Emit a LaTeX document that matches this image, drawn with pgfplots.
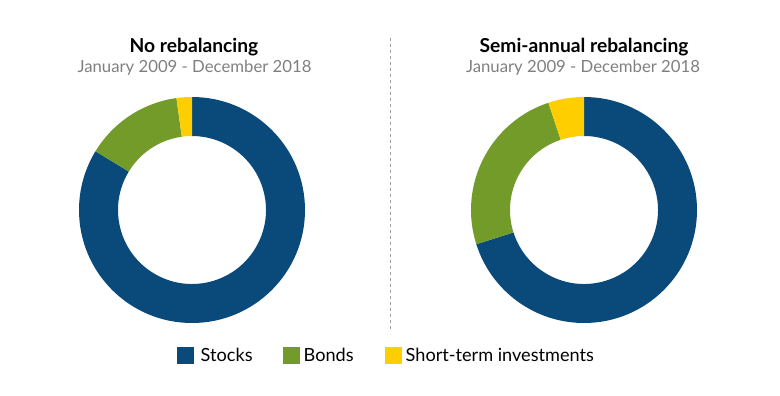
\documentclass[border=0pt]{standalone}
\usepackage{pgfplots}
\pgfplotsset{compat=1.18}
\usepackage{pgfplotstable}
\usepackage{fontspec}
\setmainfont{Lato}
\definecolor{stocks}{HTML}{0A4A7A}
\definecolor{bonds}{HTML}{739B2A}
\definecolor{short}{HTML}{FFCE00}
\definecolor{subgrey}{HTML}{7F7F7F}
\definecolor{divgrey}{HTML}{A0A0A0}

\pgfplotstableread{
label value color
Stocks 83.7 stocks
Bonds 14.1 bonds
Short 2.2 short
}\leftdata
\pgfplotstableread{
label value color
Stocks 70.1 stocks
Bonds 24.8 bonds
Short 5.1 short
}\rightdata

\newcommand\donutseg[5]{%
  \fill[#5] ([shift={(90-3.6*#3:113bp)}]axis cs:#1,#2)
    arc[start angle={90-3.6*#3}, end angle={90-3.6*#4}, radius=113bp]
    -- ([shift={(90-3.6*#4:74bp)}]axis cs:#1,#2)
    arc[start angle={90-3.6*#4}, end angle={90-3.6*#3}, radius=74bp]
    -- cycle;}
\newcommand\donut[3]{%
  \def\cum{0}%
  \pgfplotsforeachungrouped \i in {0,1,2}{%
    \pgfplotstablegetelem{\i}{value}\of#1%
    \pgfmathsetmacro\nxt{\cum+\pgfplotsretval}%
    \pgfplotstablegetelem{\i}{color}\of#1%
    \let\col\pgfplotsretval
    \edef\doit{\noexpand\donutseg{#2}{#3}{\cum}{\nxt}{\col}}\doit
    \let\cum\nxt
  }}

\begin{document}
\begin{tikzpicture}
\begin{axis}[x=1bp, y=1bp, xmin=0, xmax=780, ymin=0, ymax=395,
  hide axis, clip=false]
\path (axis cs:0,0) (axis cs:780,395);
\donut{\leftdata}{192}{185}
\donut{\rightdata}{584}{185}
% titles
\node[anchor=base, font=\fontsize{19.3}{22}\selectfont\bfseries] at (axis cs:194,342.5) {No rebalancing};
\node[anchor=base, font=\fontsize{16.8}{19}\selectfont, text=subgrey] at (axis cs:194.5,322.5) {January 2009 - December 2018};
\node[anchor=base, font=\fontsize{19.3}{22}\selectfont\bfseries] at (axis cs:584,342.5) {Semi-annual rebalancing};
\node[anchor=base, font=\fontsize{16.8}{19}\selectfont, text=subgrey] at (axis cs:583,322.5) {January 2009 - December 2018};
% divider
\draw[divgrey, dash pattern=on 3bp off 3bp, line width=0.8bp] (axis cs:390,357) -- (axis cs:390,65);
% legend
\fill[stocks] (axis cs:177,31) rectangle (axis cs:194,48);
\node[anchor=base west, inner sep=0pt, font=\fontsize{18.2}{21}\selectfont] at (axis cs:200.5,34) {Stocks};
\fill[bonds] (axis cs:283,31) rectangle (axis cs:300,48);
\node[anchor=base west, inner sep=0pt, font=\fontsize{18.2}{21}\selectfont] at (axis cs:303.5,34) {Bonds};
\fill[short] (axis cs:385,31) rectangle (axis cs:402,48);
\node[anchor=base west, inner sep=0pt, font=\fontsize{18.2}{21}\selectfont] at (axis cs:405.5,34) {Short-term investments};
\end{axis}
\end{tikzpicture}
\end{document}
